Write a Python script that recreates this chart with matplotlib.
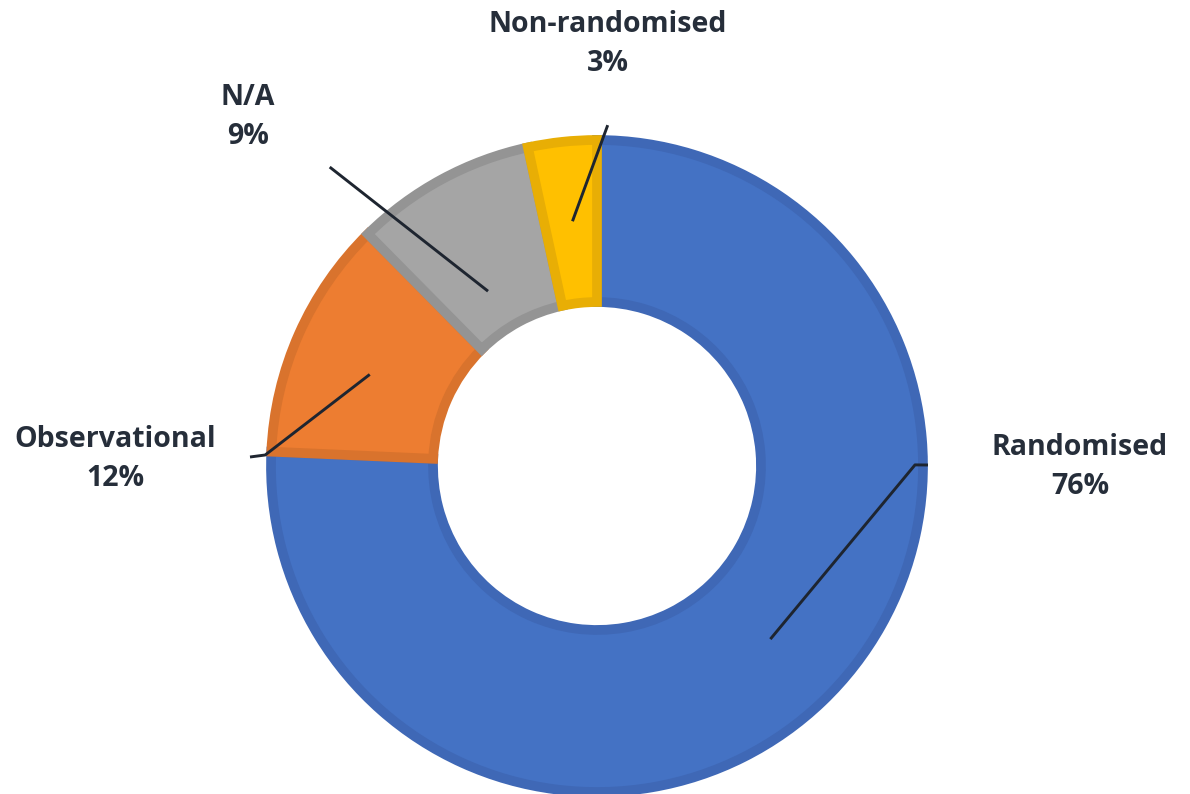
import numpy as np
import matplotlib
matplotlib.use("Agg")
import matplotlib.pyplot as plt

categories = ["Randomised", "Observational", "N/A", "Non-randomised"]
values = [75.7, 11.9, 9.0, 3.4]
pct_labels = ["76%", "12%", "9%", "3%"]
colors = ["#4472C4", "#ED7D31", "#A5A5A5", "#FFC000"]
edge_colors = ["#3F68B6", "#D9732D", "#949494", "#E8AE05"]

W, H = 1190, 794
fig = plt.figure(figsize=(W / 100, H / 100), dpi=100)
ax = fig.add_axes([0, 0, 1, 1])

cx, cy, R = 597, 328, 326
wedges, _ = ax.pie(values, colors=colors, startangle=90, counterclock=False,
                   center=(cx, cy), radius=R, frame=True,
                   wedgeprops=dict(width=R * 0.497, linewidth=7))
ax.set_xlim(0, W)
ax.set_ylim(0, H)
ax.set_aspect("equal")
ax.axis("off")
for w, ec in zip(wedges, edge_colors):
    w.set_edgecolor(ec)
    w.set_clip_path(w)

text_color = "#262E3A"
line_color = "#1E2530"
font = "Open Sans"


def pol(a, r):
    t = np.deg2rad(a)
    return cx + r * np.cos(t), cy + r * np.sin(t)


mids = []
acc = 0.0
total = sum(values)
for v in values:
    mids.append(90 - (acc + v / 2) / total * 360)
    acc += v

leaders = [
    [pol(mids[0] + 1.3, 245), pol(0.2, 318), (928, cy + 1)],
    [pol(mids[1] + 2.0, 245), pol(178.1, 332), (250, cy + 9)],
    [pol(mids[2] + 3.5, 206), pol(131.8, 401)],
    [pol(mids[3] - 0.4, 246), pol(88.2, 341)],
]
for pts in leaders:
    xs, ys = zip(*pts)
    ax.plot(xs, ys, color=line_color, lw=2.1, solid_capstyle="butt")

label_pos = [(1080, 794 - 467), (115, 794 - 459), (248, 794 - 117), (608, 794 - 44)]
for cat, pl, (x, y) in zip(categories, pct_labels, label_pos):
    ax.text(x, y, f"{cat}\n{pl}", ha="center", va="center", fontsize=20.5,
            fontweight="bold", family=font, color=text_color, linespacing=1.42)

fig.savefig("out.png", dpi=100)
